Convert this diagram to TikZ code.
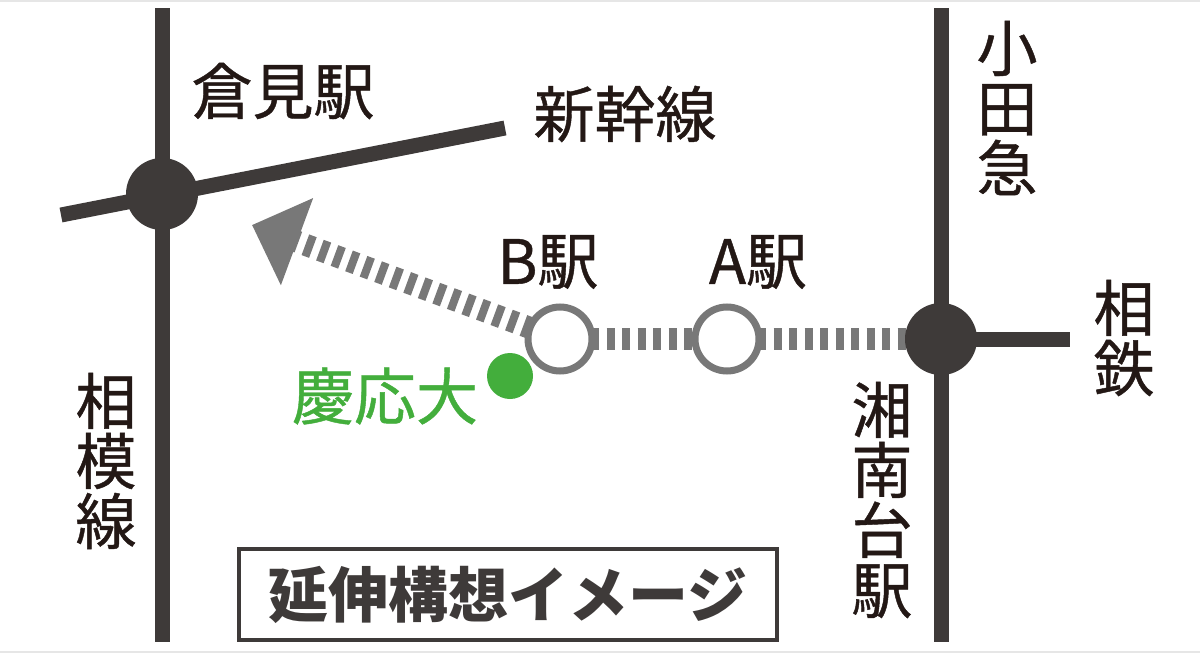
\documentclass[tikz,border=0pt]{standalone}
\usepackage{fontspec}
\setmainfont{Noto Sans CJK JP}
\newfontfamily\medfont[FakeBold=0.7]{Noto Sans CJK JP}
\usetikzlibrary{arrows.meta}
\definecolor{linec}{HTML}{3E3A39}
\definecolor{txtc}{HTML}{231815}
\definecolor{dashc}{HTML}{787878}
\definecolor{greenc}{HTML}{43AE3C}
\definecolor{edgec}{HTML}{E6E6E6}
\begin{document}
\begin{tikzpicture}[x=1pt,y=-1pt,
  rail/.style={line width=15pt, draw=linec},
  extline/.style={line width=22pt, draw=dashc, dash pattern=on 8pt off 7.5pt},
  junction/.style={circle, fill=linec, minimum size=72pt, inner sep=0pt},
  station/.style={circle, draw=dashc, line width=7pt, fill=white, minimum size=64pt, inner sep=0pt},
  lbl/.style={text=txtc, font=\medfont\fontsize{61}{60}\selectfont, inner sep=0pt, align=center},
]
\fill[white] (0,0) rectangle (1200,653);
\useasboundingbox (0,0) rectangle (1200,653);
\fill[edgec] (0,0) rectangle (1200,1.5);
\fill[edgec] (0,650.5) rectangle (1200,653);

% coordinates
\coordinate (kj) at (162,194);
\coordinate (sagtop) at (162,8);
\coordinate (sagbot) at (162,642);
\coordinate (shw) at (61,215);
\coordinate (she) at (505,128);
\coordinate (sj) at (941,339);
\coordinate (odtop) at (941,8);
\coordinate (odbot) at (941,642);
\coordinate (soe) at (1070,339);
\coordinate (b) at (560,339);
\coordinate (a) at (727,339);
\coordinate (tip) at (252,225);

% rails
\draw[rail] (sagtop) -- (sagbot);
\draw[rail] (shw) -- (she);
\draw[rail] (odtop) -- (odbot);
\draw[rail] (sj) -- (soe);

% extension
\draw[extline] (a) -- (sj);
\draw[extline] (b) -- (a);
\draw[extline, -{Triangle[length=48pt,width=90pt]}] (b) -- (tip);

% junctions and stations
\node[junction] (kurj) at (kj) {};
\node[junction] (shoj) at (sj) {};
\node[station] (stB) at (b) {};
\node[station] (stA) at (a) {};

% Keio
\node[circle, fill=greenc, minimum size=46pt, inner sep=0pt] (gdot) at (510,376) {};
\node[text=greenc, font=\medfont\fontsize{62}{62}\selectfont, inner sep=0pt] (keio) at (385,396) {慶応大};

% labels
\node[lbl] (kurami) at (283,91) {倉見駅};
\node[lbl] (shinkansen) at (625,114) {新幹線};
\node[lbl] (blbl) at (548,262) {B駅};
\node[lbl] (albl) at (758,262) {A駅};
\node[lbl] (odakyu) at (1007,108) {小\\田\\急};
\node[lbl] (sotetsu) at (1124,338) {相\\鉄};
\node[lbl] (shonandai) at (882,500) {湘\\南\\台\\駅};
\node[lbl] (sagami) at (106,461) {相\\模\\線};

% caption box
\node[draw=linec, line width=4pt, minimum width=538pt, minimum height=91pt, inner sep=0pt,
      text=linec, font=\bfseries\fontsize{60}{60}\selectfont] (caption) at (508,594.5) {延伸構想イメージ};
\end{tikzpicture}
\end{document}
